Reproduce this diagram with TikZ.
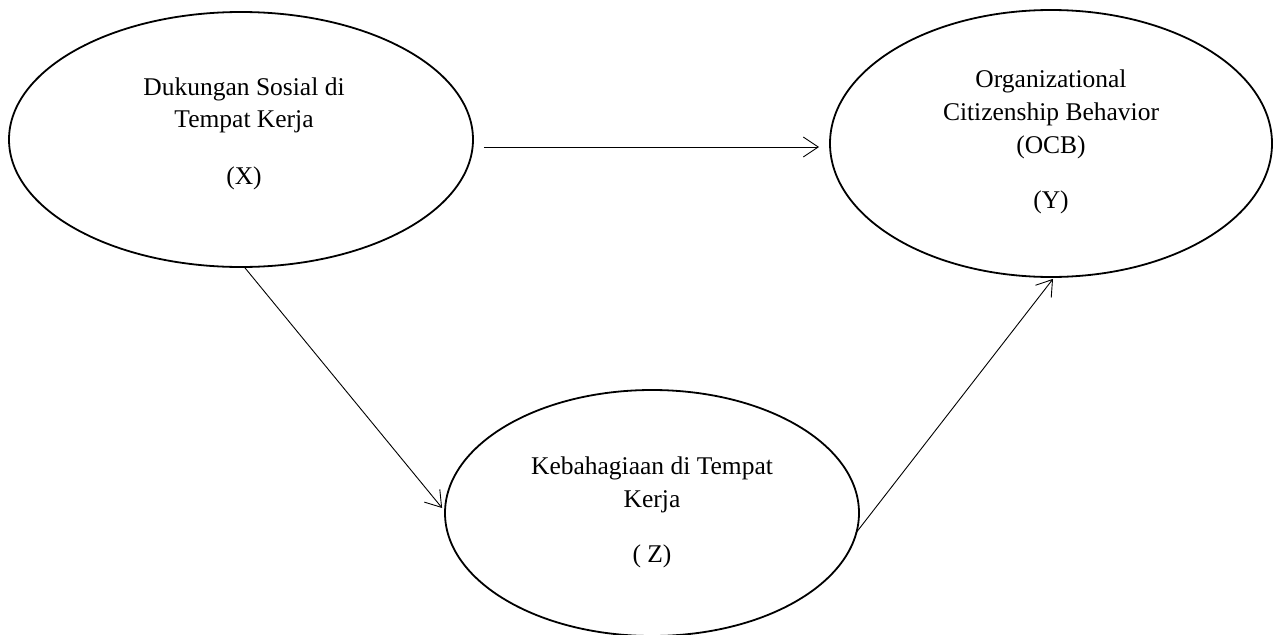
\documentclass[tikz,border=0pt]{standalone}
\usepackage{fontspec}
\setmainfont{Liberation Serif}
\usetikzlibrary{shapes.geometric,arrows.meta}
\begin{document}
\begin{tikzpicture}[x=1pt,y=-1pt,
  oval/.style={ellipse,draw,line width=1.8pt,inner sep=0pt},
  lbl/.style={anchor=base,inner sep=0pt,font=\fontsize{25.5}{32}\selectfont},
  arr/.style={line width=0.9pt,-{Straight Barb[length=15pt,width=20pt,line width=0.9pt]}}]
\useasboundingbox (0,0) rectangle (1276,634);
% ellipses
\node[oval,minimum width=464pt,minimum height=255pt] (X) at (241,139.5) {};
\node[oval,minimum width=442pt,minimum height=267pt] (Y) at (1051,143.5) {};
\node[oval,minimum width=414pt,minimum height=246pt] (Z) at (652,513) {};
% texts X
\node[lbl] (x1) at (244,95) {Dukungan Sosial di};
\node[lbl] (x2) at (244,127) {Tempat Kerja};
\node[lbl] (x3) at (244,184) {(X)};
% texts Y
\node[lbl] (y1) at (1051,87) {Organizational};
\node[lbl] (y2) at (1051,120) {Citizenship Behavior};
\node[lbl] (y3) at (1051,153) {(OCB)};
\node[lbl] (y4) at (1051,208) {(Y)};
% texts Z
\node[lbl] (z1) at (652,474) {Kebahagiaan di Tempat};
\node[lbl] (z2) at (652,507) {Kerja};
\node[lbl] (z3) at (652,562) {( Z)};
% arrows
\draw[arr] ([shift={(10,7.5)}]X.east) -- ([shift={(-10,3.5)}]Y.west);
\draw[arr] ([shift={(4,0)}]X.south) -- ([shift={(-2,-5)}]Z.west);
\draw[arr] ([shift={(-4,20)}]Z.east) -- ([shift={(2,1)}]Y.south);
\end{tikzpicture}
\end{document}
